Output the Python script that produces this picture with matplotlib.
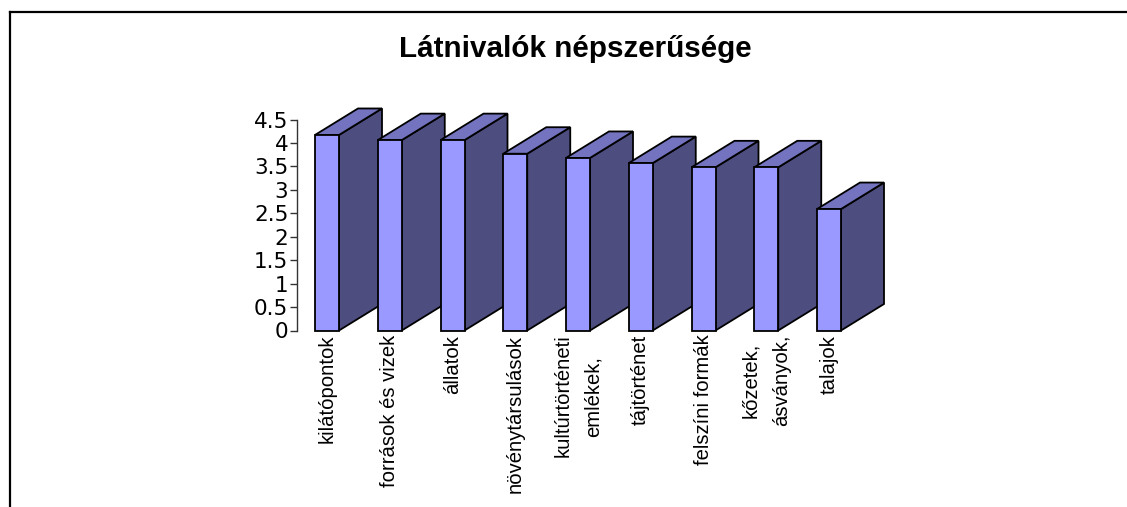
import matplotlib
matplotlib.use("Agg")
import matplotlib.pyplot as plt
from matplotlib.patches import Polygon, Rectangle
from matplotlib.lines import Line2D

title = "Látnivalók népszerűsége"
categories = ["kilátópontok", "források és vizek", "állatok", "növénytársulások",
              "kultúrtörténeti\nemlékek,", "tájtörténet", "felszíni formák",
              "kőzetek,\násványok,", "talajok"]
values = [4.17, 4.06, 4.06, 3.77, 3.68, 3.57, 3.48, 3.48, 2.59]
yticks = [0, 0.5, 1, 1.5, 2, 2.5, 3, 3.5, 4, 4.5]
ytick_labels = ["0", "0.5", "1", "1.5", "2", "2.5", "3", "3.5", "4", "4.5"]

FRONT, SIDE, TOP = "#9999FF", "#4D4D80", "#7373BF"
W, H = 1127, 507
fig = plt.figure(figsize=(W / 100, H / 100), dpi=100, facecolor="white")

# page frame: only the left and top edges are visible
for xs, ys in [((9.5, 9.5), (0, H - 12)), ((9.5, W), (H - 12, H - 12))]:
    fig.add_artist(Line2D([x / W for x in xs], [y / H for y in ys], color="black", lw=1.6,
                          transform=fig.transFigure))

left, right, top, bottom = 296.7, 860, 119.5, 330.5
ax = fig.add_axes([left / W, 1 - bottom / H, (right - left) / W, (bottom - top) / H])
spacing = 62.75
ax.set_xlim(-(327.0 - left) / spacing, (right - 327.0) / spacing)
ax.set_ylim(0, 4.5)
ax.patch.set_visible(False)
for s in ("top", "right", "bottom"):
    ax.spines[s].set_visible(False)
ax.spines["left"].set_linewidth(1.0)
ax.spines["left"].set_color("#333333")

bw = 24 / spacing
dx = 43 / spacing
dy = 26.5 / ((bottom - top) / 4.5)
for i, v in enumerate(values):
    x0, x1 = i - bw / 2, i + bw / 2
    kw = dict(edgecolor="black", linewidth=1.3, clip_on=False, joinstyle="miter")
    ax.add_patch(Polygon([(x1, 0), (x1 + dx, dy), (x1 + dx, v + dy), (x1, v)], facecolor=SIDE, **kw))
    ax.add_patch(Polygon([(x0, v), (x0 + dx, v + dy), (x1 + dx, v + dy), (x1, v)], facecolor=TOP, **kw))
    ax.add_patch(Rectangle((x0, 0), bw, v, facecolor=FRONT, **kw))

ax.set_yticks(yticks)
ax.set_yticklabels(ytick_labels, fontsize=15.5, family="DejaVu Sans")
ax.tick_params(axis="y", length=5, width=1.0, pad=1, color="#333333")
ax.set_xticks(range(len(categories)))
ax.set_xticklabels(categories, rotation=90, fontsize=14.6, family="Liberation Sans",
                   ha="center", va="top", multialignment="center", linespacing=1.75)
ax.tick_params(axis="x", length=0, pad=3)

fig.text(575 / W, 1 - 57 / H, title, ha="center", va="baseline", fontsize=21.3,
         fontweight="bold", family="Liberation Sans")
fig.savefig("out.png", dpi=100, facecolor="white")
